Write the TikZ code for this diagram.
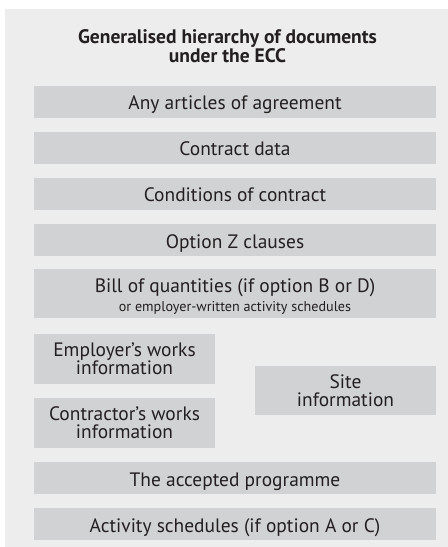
\documentclass[tikz,border=0pt]{standalone}
\usepackage{fontspec}
\setmainfont{PT Sans}
\definecolor{panel}{HTML}{EDEDED}
\definecolor{boxfill}{HTML}{D1D2D4}
\definecolor{ink}{HTML}{231F20}
\begin{document}
\begin{tikzpicture}[x=1bp,y=-1bp,
  box/.style={fill=boxfill,draw=none,inner sep=0pt,text=ink,align=center,
    font=\fontsize{19.5}{18.2}\selectfont},
  wide/.style={box,minimum width=402bp,minimum height=32bp,text height=16bp,text depth=0bp},
  half/.style={box,minimum width=181bp,minimum height=50bp,text height=31.5bp,text depth=0bp},
]
\useasboundingbox (0,0) rectangle (448,547);
\fill[panel] (5,9) rectangle (448,547);
\node[text=ink,align=center,inner sep=0pt,text height=32bp,text depth=0bp,
  font=\bfseries\fontsize{19.6}{18}\selectfont] (title) at (227.5,46.3) {Generalised hierarchy of documents\\under the ECC};
\node[wide] (a) at (235,102) {Any articles of agreement};
\node[wide] (b) at (235,148) {Contract data};
\node[wide] (c) at (235,194) {Conditions of contract};
\node[wide] (d) at (235,240) {Option Z clauses};
\node[box,minimum width=402bp,minimum height=49.5bp,text height=36bp,text depth=0bp] (e) at (235,293.7)
  {Bill of quantities (if option B or D)\\[1.2bp]{\fontsize{14.2}{17.5}\selectfont or employer-written activity schedules}};
\node[half] (f) at (124.5,359) {Employer's works\\information};
\node[half] (g) at (124.5,423) {Contractor's works\\information};
\node[half,minimum height=49.5bp] (h) at (345.5,390.5) {Site\\information};
\node[wide] (i) at (235,478) {The accepted programme};
\node[wide] (j) at (235,524) {Activity schedules (if option A or C)};
\end{tikzpicture}
\end{document}
